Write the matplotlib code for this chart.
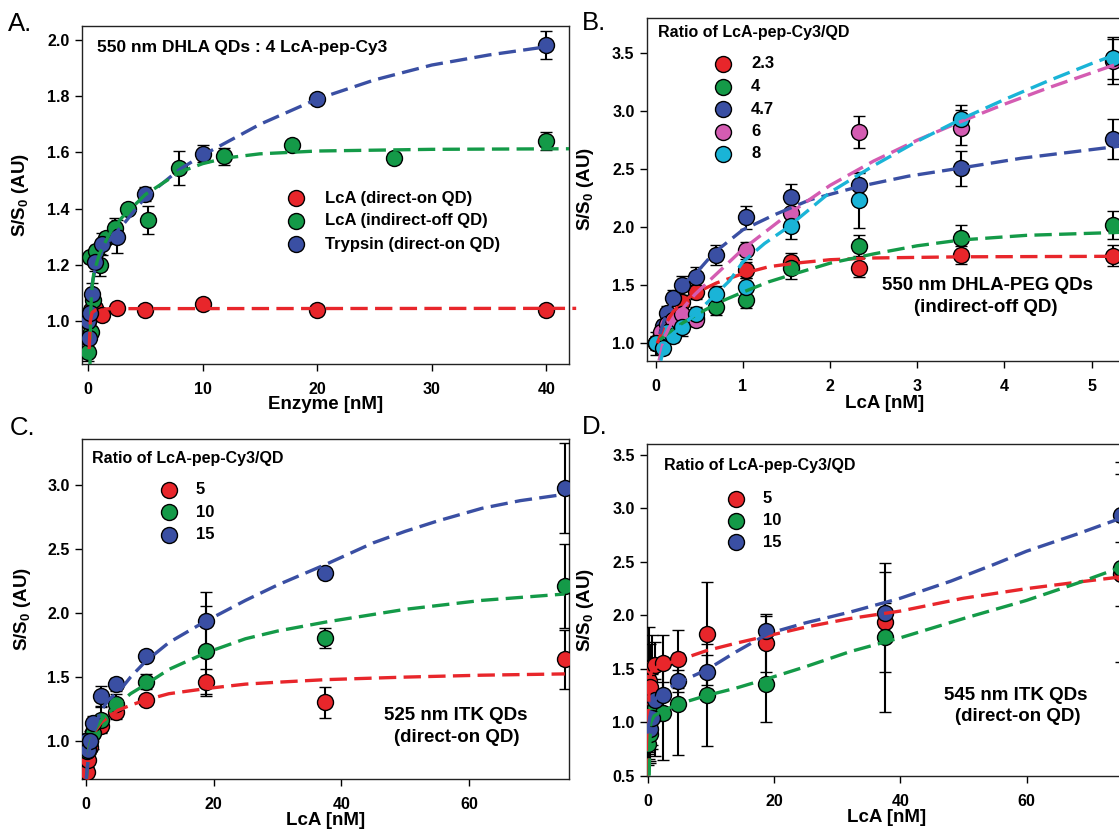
import matplotlib
matplotlib.use('Agg')
import matplotlib.pyplot as plt
from matplotlib.lines import Line2D

W, H = 1119, 832
plt.rcParams['font.family'] = ['Liberation Sans', 'DejaVu Sans']
plt.rcParams['mathtext.fontset'] = 'custom'
plt.rcParams['mathtext.rm'] = 'Liberation Sans:bold'
plt.rcParams['mathtext.it'] = 'Liberation Sans:bold'
plt.rcParams['mathtext.bf'] = 'Liberation Sans:bold'
plt.rcParams['mathtext.default'] = 'rm'

RED = '#E8262B'
GREEN = '#149A48'
BLUE = '#3A4FA3'
PINK = '#D45CB2'
CYAN = '#1AB4D7'

# ---------------- Panel A data ----------------
A_red_x = [0, 0.3, 0.6, 1.25, 2.5, 5, 10, 20, 40]
A_red_y = [1.00, 1.04, 1.045, 1.02, 1.046, 1.04, 1.061, 1.04, 1.038]
A_red_e = [0.01, 0.01, 0.01, 0.01, 0.01, 0.01, 0.01, 0.01, 0.01]
A_green_x = [0, 0.2, 0.3, 0.46, 0.69, 1.04, 1.56, 2.34, 3.51, 5.27, 7.9, 11.85, 17.78, 26.67, 40]
A_green_y = [0.888, 1.227, 0.961, 1.073, 1.25, 1.20, 1.297, 1.33, 1.40, 1.359, 1.545, 1.587, 1.626, 1.581, 1.64]
A_green_e = [0.03, 0.02, 0.02, 0.02, 0.02, 0.04, 0.02, 0.035, 0.01, 0.05, 0.06, 0.03, 0.01, 0.01, 0.033]
A_blue_x = [0, 0.08, 0.16, 0.31, 0.63, 1.25, 2.5, 5, 10, 20, 40]
A_blue_y = [1.00, 0.94, 1.03, 1.097, 1.209, 1.274, 1.30, 1.453, 1.595, 1.791, 1.982]
A_blue_e = [0.01, 0.02, 0.02, 0.04, 0.03, 0.04, 0.058, 0.025, 0.03, 0.005, 0.05]
# fitted curves
A_fit_red_x = [0.1, 0.2, 0.35, 0.7, 2, 42.6]
A_fit_red_y = [0.90, 1.00, 1.03, 1.04, 1.044, 1.045]
A_fit_green_x = [0.17, 0.22, 0.3, 0.5, 1.0, 2, 3, 5, 8, 10, 12, 15, 20, 30, 42]
A_fit_green_y = [0.847, 1.0, 1.1, 1.17, 1.24, 1.32, 1.37, 1.45, 1.53, 1.56, 1.58, 1.595, 1.605, 1.611, 1.613]
A_fit_blue_x = [0.3, 0.6, 1.2, 2.0, 3, 5, 8, 10, 15, 20, 25, 30, 35, 40]
A_fit_blue_y = [1.12, 1.18, 1.245, 1.295, 1.34, 1.44, 1.54, 1.59, 1.70, 1.79, 1.858, 1.911, 1.947, 1.976]

# ---------------- Panel B data ----------------
B_red_x = [0, 0.061, 0.091, 0.137, 0.205, 0.307, 0.461, 1.037, 1.556, 2.333, 3.5, 5.25]
B_red_y = [1.00, 1.03, 1.08, 1.15, 1.22, 1.36, 1.445, 1.632, 1.704, 1.652, 1.761, 1.753]
B_red_e = [0.10, 0.04, 0.04, 0.05, 0.05, 0.06, 0.06, 0.07, 0.07, 0.08, 0.08, 0.09]
B_green_x = [0, 0.061, 0.091, 0.137, 0.205, 0.307, 0.461, 0.691, 1.037, 1.556, 2.333, 3.5, 5.25]
B_green_y = [1.00, 1.02, 1.05, 1.08, 1.12, 1.18, 1.22, 1.31, 1.374, 1.647, 1.839, 1.905, 2.02]
B_green_e = [0.04, 0.03, 0.04, 0.04, 0.04, 0.05, 0.05, 0.07, 0.07, 0.09, 0.09, 0.11, 0.12]
B_blue_x = [0, 0.061, 0.091, 0.137, 0.205, 0.307, 0.461, 0.691, 1.037, 1.556, 2.333, 3.5, 5.25]
B_blue_y = [1.00, 1.08, 1.15, 1.264, 1.388, 1.50, 1.575, 1.761, 2.086, 2.259, 2.365, 2.509, 2.759]
B_blue_e = [0.06, 0.05, 0.05, 0.06, 0.07, 0.08, 0.08, 0.09, 0.10, 0.11, 0.10, 0.15, 0.17]
B_pink_x = [0, 0.061, 0.137, 0.205, 0.307, 0.461, 1.037, 1.556, 2.333, 3.5, 5.25]
B_pink_y = [1.00, 1.10, 1.17, 1.20, 1.25, 1.20, 1.80, 2.121, 2.819, 2.859, 3.428]
B_pink_e = [0.04, 0.04, 0.05, 0.05, 0.06, 0.05, 0.07, 0.10, 0.14, 0.15, 0.19]
B_cyan_x = [0, 0.091, 0.137, 0.205, 0.307, 0.461, 0.691, 1.037, 1.556, 2.333, 3.5, 5.25]
B_cyan_y = [1.00, 0.957, 1.10, 1.06, 1.144, 1.253, 1.425, 1.483, 2.011, 2.236, 2.931, 3.457]
B_cyan_e = [0.05, 0.05, 0.05, 0.05, 0.08, 0.06, 0.07, 0.08, 0.11, 0.24, 0.12, 0.18]
B_fit_red_x = [0.02, 0.1, 0.2, 0.3, 0.45, 0.7, 1.0, 1.3, 1.6, 2.0, 2.5, 3.5, 5.5]
B_fit_red_y = [1.0, 1.15, 1.27, 1.35, 1.43, 1.52, 1.60, 1.66, 1.69, 1.72, 1.735, 1.745, 1.75]
B_fit_green_x = [0.05, 0.15, 0.3, 0.5, 0.75, 1.0, 1.3, 1.6, 2.0, 2.5, 3.0, 3.5, 4.25, 5.5]
B_fit_green_y = [1.03, 1.09, 1.17, 1.26, 1.36, 1.44, 1.53, 1.60, 1.69, 1.77, 1.84, 1.89, 1.93, 1.96]
B_fit_blue_x = [0.05, 0.1, 0.2, 0.3, 0.46, 0.665, 1.0, 1.36, 1.77, 2.33, 2.9, 3.5, 4.2, 5.5]
B_fit_blue_y = [1.08, 1.20, 1.38, 1.50, 1.60, 1.776, 1.977, 2.106, 2.236, 2.35, 2.44, 2.51, 2.595, 2.715]
B_fit_pink_x = [0.04, 0.1, 0.2, 0.3, 0.45, 0.66, 1.0, 1.5, 2.0, 2.5, 3.0, 3.5, 4.0, 4.5, 5.0, 5.5]
B_fit_pink_y = [0.85, 1.05, 1.20, 1.29, 1.42, 1.57, 1.81, 2.10, 2.36, 2.57, 2.75, 2.91, 3.06, 3.20, 3.33, 3.46]
B_fit_cyan_x = [0.06, 0.1, 0.2, 0.3, 0.47, 0.7, 0.85, 1.0, 1.25, 1.5, 2.0, 2.5, 3.0, 3.5, 4.0, 4.5, 5.0, 5.5]
B_fit_cyan_y = [0.85, 0.97, 1.08, 1.15, 1.26, 1.43, 1.54, 1.70, 1.86, 1.99, 2.30, 2.53, 2.74, 2.93, 3.10, 3.26, 3.41, 3.55]

# ---------------- Panel C data ----------------
C_x = [0, 0.146, 0.293, 0.586, 1.172, 2.344, 4.688, 9.375, 18.75, 37.5, 75]
C_red_y = [1.00, 0.76, 0.85, 0.95, 1.07, 1.12, 1.224, 1.32, 1.464, 1.302, 1.638]
C_red_e = [0.05, 0.03, 0.05, 0.05, 0.05, 0.05, 0.05, 0.03, 0.10, 0.12, 0.23]
C_green_y = [1.00, 0.92, 0.97, 1.00, 1.06, 1.164, 1.289, 1.464, 1.706, 1.807, 2.211]
C_green_e = [0.05, 0.05, 0.06, 0.05, 0.12, 0.10, 0.08, 0.06, 0.35, 0.08, 0.33]
C_blue_y = [1.00, 0.95, 0.93, 1.00, 1.138, 1.352, 1.443, 1.667, 1.9375, 2.315, 2.979]
C_blue_e = [0.05, 0.05, 0.05, 0.08, 0.06, 0.08, 0.05, 0.04, 0.23, 0.03, 0.355]
C_fit_red_x = [0.1, 0.5, 1.2, 2.5, 5, 7, 9.3, 13, 18.8, 25, 30, 37.5, 50, 62, 75]
C_fit_red_y = [0.70, 0.95, 1.06, 1.15, 1.24, 1.28, 1.32, 1.37, 1.41, 1.445, 1.46, 1.48, 1.50, 1.515, 1.525]
C_fit_green_x = [0.1, 0.5, 1.2, 2.5, 4.9, 7, 9.3, 13, 18.8, 25, 30, 37.5, 45, 50, 62, 75]
C_fit_green_y = [0.70, 0.95, 1.07, 1.17, 1.28, 1.37, 1.44, 1.56, 1.69, 1.80, 1.86, 1.93, 1.99, 2.03, 2.10, 2.15]
C_fit_blue_x = [0.05, 0.5, 1.2, 2.2, 3.5, 5.4, 7, 9.3, 13, 18.5, 25, 30, 37.5, 45, 50, 55, 62, 68, 75]
C_fit_blue_y = [0.70, 0.92, 1.06, 1.22, 1.32, 1.40, 1.50, 1.62, 1.77, 1.93, 2.10, 2.22, 2.38, 2.55, 2.64, 2.72, 2.82, 2.88, 2.93]

# ---------------- Panel D data ----------------
D_x = [0, 0.146, 0.293, 0.586, 1.172, 2.344, 4.688, 9.375, 18.75, 37.5, 75]
D_red_y = [1.18, 1.39, 1.33, 1.52, 1.535, 1.55, 1.59, 1.83, 1.74, 1.94, 2.39]
D_red_e = [0.40, 0.50, 0.40, 0.30, 0.22, 0.27, 0.27, 0.48, 0.27, 0.47, 0.30]
D_green_y = [0.80, 0.97, 0.89, 1.10, 1.13, 1.09, 1.17, 1.255, 1.354, 1.794, 2.44]
D_green_e = [0.20, 0.25, 0.27, 0.35, 0.45, 0.44, 0.48, 0.48, 0.35, 0.70, 0.88]
D_blue_y = [1.00, 0.96, 0.94, 1.036, 1.208, 1.255, 1.386, 1.473, 1.856, 2.018, 2.94]
D_blue_e = [0.30, 0.30, 0.30, 0.25, 0.20, 0.12, 0.10, 0.16, 0.14, 0.10, 0.49]
D_fit_red_x = [0.05, 0.1, 0.2, 0.5, 1.5, 3, 4.8, 9.3, 14, 19.1, 25, 32, 40, 50, 60, 68, 75, 80]
D_fit_red_y = [0.50, 1.10, 1.38, 1.47, 1.52, 1.55, 1.58, 1.67, 1.74, 1.81, 1.89, 1.97, 2.04, 2.16, 2.25, 2.31, 2.36, 2.39]
D_fit_green_x = [0.2, 0.3, 0.45, 1.0, 2.1, 4.8, 9.3, 14, 19.1, 25, 32, 40, 50, 60, 68, 75, 80]
D_fit_green_y = [0.50, 0.80, 1.00, 1.06, 1.10, 1.17, 1.25, 1.32, 1.41, 1.52, 1.66, 1.79, 1.97, 2.14, 2.30, 2.45, 2.54]
D_fit_blue_x = [0.05, 0.3, 0.8, 1.5, 2.5, 4.8, 9.3, 14, 19.1, 25, 32, 40, 48, 55, 60, 68, 75, 80]
D_fit_blue_y = [0.95, 1.05, 1.18, 1.24, 1.29, 1.37, 1.49, 1.66, 1.83, 1.93, 2.03, 2.16, 2.32, 2.48, 2.60, 2.76, 2.91, 3.00]

# ---------------- figure ----------------
fig = plt.figure(figsize=(W / 100, H / 100), dpi=100)

TICK_FS = 11.5
LABEL_FS = 13.5
MS = 11.5


def fx(x):
    return x / W


def fy(y):
    return 1 - y / H


def add_ax(box):
    l, t, r, b = box
    return fig.add_axes([l / W, 1 - b / H, (r - l) / W, (b - t) / H])


def pts(ax, x, y, e, c):
    ax.errorbar(x, y, yerr=e, fmt='o', ms=MS, mfc=c, mec='black', mew=1.0,
                ecolor='black', elinewidth=1.5, capsize=4.5, capthick=1.5, zorder=3)


def fit(ax, x, y, c, clip=True):
    ax.plot(x, y, color=c, lw=2.4, linestyle=(0, (5.2, 2.2)), zorder=4, clip_on=clip)


def style(ax, box, xlim, ylim, xticks, yticks, xlabel, ylab_right, xlab_top):
    l, t, r, b = box
    ax.set_xlim(xlim)
    ax.set_ylim(ylim)
    ax.set_xticks(xticks)
    ax.set_xticklabels([str(v) for v in xticks])
    ax.set_yticks(yticks)
    ax.set_yticklabels([f'{v:.1f}' for v in yticks])
    ax.tick_params(direction='out', length=5, width=1, labelsize=TICK_FS, top=False, right=False)
    ax.tick_params(axis='x', pad=8)
    ax.tick_params(axis='y', pad=4)
    for lab in ax.get_xticklabels() + ax.get_yticklabels():
        lab.set_fontweight('bold')
    for sp in ax.spines.values():
        sp.set_linewidth(1.0)
        sp.set_color('#222222')
    ax.set_xlabel(xlabel, fontsize=LABEL_FS, fontweight='bold')
    ax.set_ylabel('S/S$_0$ (AU)', fontsize=LABEL_FS, fontweight='bold')
    ax.yaxis.set_label_coords((ylab_right - l) / (r - l), 0.5)
    ax.xaxis.set_label_coords(0.5, (b - xlab_top) / (b - t))


def legend(title, title_xy, mx, tx, ys, labels, colors, fs, tfs=11.5):
    if title:
        fig.text(fx(title_xy[0]), fy(title_xy[1]), title, ha='left', va='center',
                 fontsize=tfs, fontweight='bold')
    for y, lab, c in zip(ys, labels, colors):
        fig.add_artist(Line2D([fx(mx)], [fy(y)], marker='o', ms=MS, mfc=c, mec='black',
                              mew=1.0, linestyle='none', transform=fig.transFigure))
        fig.text(fx(tx), fy(y), lab, ha='left', va='center', fontsize=fs, fontweight='bold')


# Panel A
boxA = (82.3, 25.7, 569.3, 364)
axA = add_ax(boxA)
pts(axA, A_red_x, A_red_y, A_red_e, RED)
pts(axA, A_green_x, A_green_y, A_green_e, GREEN)
pts(axA, A_blue_x, A_blue_y, A_blue_e, BLUE)
fit(axA, A_fit_blue_x, A_fit_blue_y, BLUE)
fit(axA, A_fit_green_x, A_fit_green_y, GREEN)
fit(axA, A_fit_red_x, A_fit_red_y, RED, clip=False)
style(axA, boxA, (-0.5, 42.0), (0.847, 2.051), [0, 10, 20, 30, 40],
      [1.0, 1.2, 1.4, 1.6, 1.8, 2.0], 'Enzyme [nM]', 31, 396)

# Panel B
boxB = (647.0, 18.3, 1123.0, 360.7)
axB = add_ax(boxB)
pts(axB, B_red_x, B_red_y, B_red_e, RED)
pts(axB, B_green_x, B_green_y, B_green_e, GREEN)
pts(axB, B_blue_x, B_blue_y, B_blue_e, BLUE)
pts(axB, B_pink_x, B_pink_y, B_pink_e, PINK)
pts(axB, B_cyan_x, B_cyan_y, B_cyan_e, CYAN)
fit(axB, B_fit_red_x, B_fit_red_y, RED)
fit(axB, B_fit_green_x, B_fit_green_y, GREEN)
fit(axB, B_fit_blue_x, B_fit_blue_y, BLUE)
fit(axB, B_fit_pink_x, B_fit_pink_y, PINK)
fit(axB, B_fit_cyan_x, B_fit_cyan_y, CYAN)
style(axB, boxB, (-0.098, 5.36), (0.85, 3.80), [0, 1, 2, 3, 4, 5],
      [1.0, 1.5, 2.0, 2.5, 3.0, 3.5], 'LcA [nM]', 595.6, 395)

# Panel C
boxC = (82.3, 439.3, 569.3, 779)
axC = add_ax(boxC)
pts(axC, C_x, C_red_y, C_red_e, RED)
pts(axC, C_x, C_green_y, C_green_e, GREEN)
pts(axC, C_x, C_blue_y, C_blue_e, BLUE)
fit(axC, C_fit_red_x, C_fit_red_y, RED)
fit(axC, C_fit_green_x, C_fit_green_y, GREEN)
fit(axC, C_fit_blue_x, C_fit_blue_y, BLUE)
style(axC, boxC, (-0.55, 75.7), (0.703, 3.36), [0, 20, 40, 60],
      [1.0, 1.5, 2.0, 2.5, 3.0], 'LcA [nM]', 32.6, 812)

# Panel D
boxD = (647.3, 444.3, 1125.0, 775.7)
axD = add_ax(boxD)
pts(axD, D_x, D_red_y, D_red_e, RED)
pts(axD, D_x, D_green_y, D_green_e, GREEN)
pts(axD, D_x, D_blue_y, D_blue_e, BLUE)
fit(axD, D_fit_red_x, D_fit_red_y, RED)
fit(axD, D_fit_green_x, D_fit_green_y, GREEN)
fit(axD, D_fit_blue_x, D_fit_blue_y, BLUE)
style(axD, boxD, (-0.1, 75.6), (0.5, 3.60), [0, 20, 40, 60],
      [0.5, 1.0, 1.5, 2.0, 2.5, 3.0, 3.5], 'LcA [nM]', 595.7, 809)

# Panel letters
for s, x, y in [('A.', 8, 24), ('B.', 582, 23), ('C.', 10, 428), ('D.', 582, 427)]:
    fig.text(fx(x), fy(y), s, ha='left', va='center', fontsize=18.5)

# Annotations
fig.text(fx(97), fy(47.7), '550 nm DHLA QDs : 4 LcA-pep-Cy3', ha='left', va='center',
         fontsize=12.5, fontweight='bold')
legend(None, None, 296, 325, [198.3, 221, 244.3],
       ['LcA (direct-on QD)', 'LcA (indirect-off QD)', 'Trypsin (direct-on QD)'],
       [RED, GREEN, BLUE], 12)

legend('Ratio of LcA-pep-Cy3/QD', (658, 33), 723, 751, [64, 86.7, 109, 131.7, 154],
       ['2.3', '4', '4.7', '6', '8'], [RED, GREEN, BLUE, PINK, CYAN], 12)
fig.text(fx(988), fy(286), '550 nm DHLA-PEG QDs', ha='center', va='center',
         fontsize=13.5, fontweight='bold')
fig.text(fx(986), fy(308), '(indirect-off QD)', ha='center', va='center',
         fontsize=13.5, fontweight='bold')

legend('Ratio of LcA-pep-Cy3/QD', (92.5, 458), 169, 196, [490, 512.3, 534.7],
       ['5', '10', '15'], [RED, GREEN, BLUE], 12)
fig.text(fx(455.8), fy(716), '525 nm ITK QDs', ha='center', va='center',
         fontsize=13.5, fontweight='bold')
fig.text(fx(457), fy(738), '(direct-on QD)', ha='center', va='center',
         fontsize=13.5, fontweight='bold')

legend('Ratio of LcA-pep-Cy3/QD', (664.5, 465.7), 735.8, 763, [498.7, 520.7, 542.3],
       ['5', '10', '15'], [RED, GREEN, BLUE], 12)
fig.text(fx(1016), fy(696), '545 nm ITK QDs', ha='center', va='center',
         fontsize=13.5, fontweight='bold')
fig.text(fx(1018), fy(716.7), '(direct-on QD)', ha='center', va='center',
         fontsize=13.5, fontweight='bold')

fig.savefig('out.png', dpi=100)
